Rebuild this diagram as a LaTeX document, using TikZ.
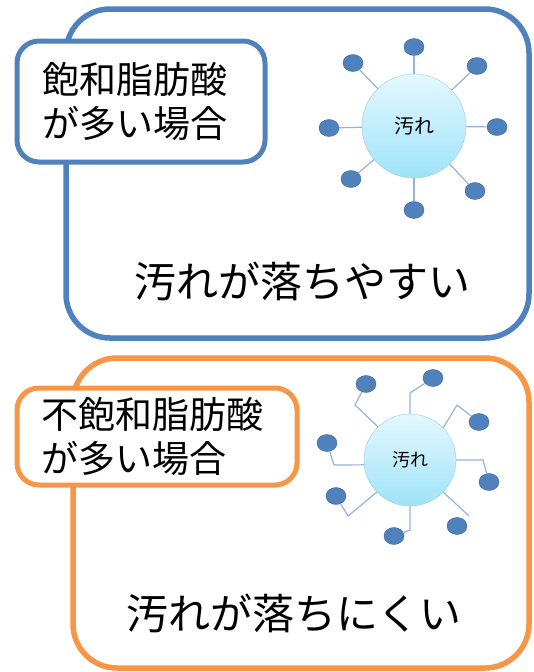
\documentclass[tikz,border=0pt]{standalone}
\usepackage{fontspec}
\setmainfont{Noto Sans CJK JP}
\usetikzlibrary{shapes.geometric}
\definecolor{boxblue}{RGB}{79,129,189}
\definecolor{boxorange}{RGB}{247,150,70}
\definecolor{dotblue}{RGB}{79,129,189}
\definecolor{dotedge}{RGB}{60,98,145}
\definecolor{bondblue}{RGB}{149,179,215}
\definecolor{dirttop}{RGB}{228,248,254}
\definecolor{dirtbottom}{RGB}{158,227,250}
\definecolor{dirtedge}{RGB}{150,205,222}

\begin{document}
\begin{tikzpicture}[x=1pt,y=-1pt,
    frame/.style={rectangle,draw,rounded corners=44pt,line width=5.5pt,fill=white},
    tag/.style={rectangle,draw,rounded corners=22pt,line width=5pt,fill=white,align=left,font=\fontsize{37}{44}\selectfont},
    dirt/.style={circle,draw=dirtedge,top color=dirttop,bottom color=dirtbottom,inner sep=0pt},
    grain/.style={ellipse,draw=dotedge,fill=dotblue,minimum width=20pt,minimum height=17pt,inner sep=0pt},
    bond/.style={draw=bondblue,line width=1.2pt},
    result/.style={font=\fontsize{42}{50}\selectfont}]

    \useasboundingbox (0,0) rectangle (533,672);

    % saturated case
    \node[frame,draw=boxblue,minimum width=463pt,minimum height=329pt] (satframe) at (297.5,173.5) {};
    \node[tag,draw=boxblue,inner xsep=25pt,text width=198pt,minimum height=121pt] (sattag) at (141,101.5) {飽和脂肪酸\\が多い場合};
    \node[result] (satresult) at (302,281) {汚れが落ちやすい};

    \node[dirt,minimum size=104pt,font=\fontsize{20}{24}\selectfont] (dirtA) at (414,126) {汚れ};
    \node[grain] (a1) at (414,47) {};
    \node[grain] (a2) at (477,66) {};
    \node[grain] (a3) at (497,127) {};
    \node[grain] (a4) at (475,191) {};
    \node[grain] (a5) at (414,210) {};
    \node[grain] (a6) at (351,179) {};
    \node[grain] (a7) at (329,128) {};
    \node[grain] (a8) at (353,63) {};

    \draw[bond] (dirtA) -- (a1);
    \draw[bond] (dirtA) -- (a2);
    \draw[bond] (dirtA) -- (a3);
    \draw[bond] (dirtA) -- (a4);
    \draw[bond] (dirtA) -- (a5);
    \draw[bond] (dirtA) -- (a6);
    \draw[bond] (dirtA) -- (a7);
    \draw[bond] (dirtA) -- (a8);

    % unsaturated case
    \node[frame,draw=boxorange,minimum width=456pt,minimum height=310pt] (unsframe) at (301,513) {};
    \node[tag,draw=boxorange,inner xsep=24pt,text width=232pt,minimum height=97pt] (unstag) at (157,436.5) {不飽和脂肪酸\\が多い場合};
    \node[result] (unsresult) at (294,613) {汚れが落ちにくい};

    \node[dirt,minimum size=92pt,font=\fontsize{18}{22}\selectfont] (dirtB) at (410,460) {汚れ};
    \node[grain] (b1) at (366,384) {};
    \node[grain] (b2) at (433,378) {};
    \node[grain] (b3) at (479,422) {};
    \node[grain] (b4) at (489,482) {};
    \node[grain] (b5) at (457,526) {};
    \node[grain] (b6) at (394,536) {};
    \node[grain] (b7) at (336,496) {};
    \node[grain] (b8) at (327,443) {};

    % bent chains
    \coordinate (k1) at (355,405);
    \coordinate (k2) at (410,393);
    \coordinate (k3) at (457,405);
    \coordinate (k4) at (483,460);
    \coordinate (k5) at (469,516);
    \coordinate (k6) at (410,530);
    \coordinate (k7) at (348,516);
    \coordinate (k8) at (334,465);

    \draw[bond] (dirtB.134) -- (k1) -- (b1);
    \draw[bond] (dirtB.north) -- (k2) -- (b2);
    \draw[bond] (dirtB.44) -- (k3) -- (b3);
    \draw[bond] (dirtB.east) -- (k4) -- (b4);
    \draw[bond] (dirtB.-44) -- (k5);
    \draw[bond] (dirtB.south) -- (k6) -- (b6);
    \draw[bond] (dirtB.-136) -- (k7) -- (b7);
    \draw[bond] (dirtB.186) -- (k8) -- (b8);
\end{tikzpicture}
\end{document}
